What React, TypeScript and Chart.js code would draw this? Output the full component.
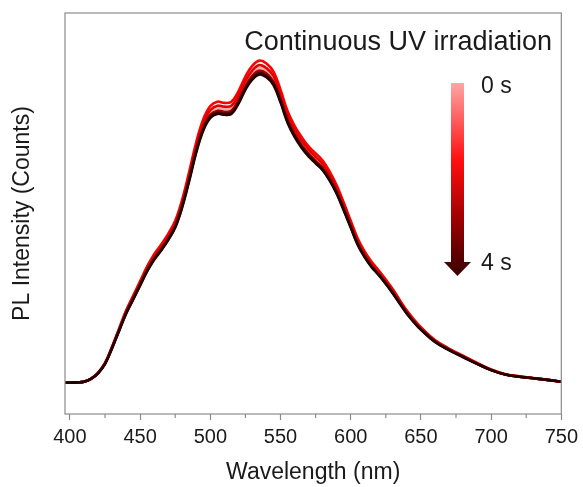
import React, { useEffect, useRef } from 'react';
import { Chart, registerables } from 'chart.js';

Chart.register(...registerables);

// ---- data ----
const wavelengths = [396, 400, 405, 410, 415, 420, 425, 430, 435, 440, 445, 450, 455, 460, 465, 470, 475, 480, 485, 490, 495, 500, 505, 510, 515, 520, 525, 530, 535, 540, 545, 550, 555, 560, 565, 570, 575, 580, 585, 590, 595, 600, 605, 610, 615, 620, 625, 630, 635, 640, 645, 650, 660, 670, 680, 690, 700, 710, 720, 730, 740, 750];

const curvePink = [0, 0, 0.001, 0.003, 0.012, 0.031, 0.061, 0.112, 0.169, 0.225, 0.271, 0.317, 0.363, 0.401, 0.431, 0.465, 0.506, 0.572, 0.659, 0.751, 0.823, 0.864, 0.877, 0.874, 0.877, 0.910, 0.956, 0.989, 1.006, 0.996, 0.971, 0.915, 0.848, 0.802, 0.767, 0.738, 0.715, 0.693, 0.659, 0.616, 0.562, 0.506, 0.450, 0.409, 0.376, 0.351, 0.322, 0.291, 0.258, 0.225, 0.197, 0.173, 0.133, 0.106, 0.084, 0.061, 0.041, 0.027, 0.019, 0.014, 0.009, 0.003];
const curveRed = [0, 0, 0.001, 0.003, 0.013, 0.031, 0.063, 0.115, 0.172, 0.230, 0.277, 0.324, 0.371, 0.410, 0.441, 0.475, 0.517, 0.585, 0.674, 0.768, 0.841, 0.883, 0.897, 0.893, 0.897, 0.930, 0.977, 1.012, 1.028, 1.019, 0.993, 0.935, 0.867, 0.820, 0.784, 0.754, 0.732, 0.709, 0.674, 0.630, 0.575, 0.517, 0.460, 0.418, 0.385, 0.358, 0.329, 0.298, 0.263, 0.230, 0.202, 0.177, 0.136, 0.109, 0.086, 0.063, 0.042, 0.027, 0.020, 0.015, 0.009, 0.003];
const curveRed2 = [0, 0, 0.001, 0.003, 0.012, 0.031, 0.062, 0.113, 0.170, 0.227, 0.273, 0.319, 0.366, 0.404, 0.435, 0.469, 0.510, 0.577, 0.664, 0.757, 0.829, 0.870, 0.884, 0.881, 0.884, 0.917, 0.963, 0.997, 1.014, 1.004, 0.979, 0.922, 0.855, 0.809, 0.773, 0.744, 0.721, 0.698, 0.664, 0.621, 0.567, 0.510, 0.453, 0.412, 0.379, 0.353, 0.324, 0.294, 0.260, 0.227, 0.199, 0.174, 0.134, 0.107, 0.084, 0.062, 0.041, 0.027, 0.020, 0.014, 0.009, 0.003];
const curveDark1 = [0, 0, 0.001, 0.003, 0.012, 0.030, 0.061, 0.111, 0.167, 0.223, 0.268, 0.314, 0.359, 0.397, 0.427, 0.460, 0.501, 0.567, 0.653, 0.744, 0.815, 0.855, 0.868, 0.865, 0.868, 0.901, 0.946, 0.980, 0.996, 0.987, 0.961, 0.906, 0.840, 0.794, 0.759, 0.731, 0.708, 0.686, 0.653, 0.610, 0.557, 0.501, 0.445, 0.405, 0.372, 0.347, 0.319, 0.288, 0.255, 0.223, 0.195, 0.171, 0.132, 0.105, 0.083, 0.061, 0.040, 0.026, 0.019, 0.014, 0.009, 0.003];
const curveDark2 = [0, 0, 0.001, 0.003, 0.012, 0.030, 0.060, 0.111, 0.166, 0.221, 0.266, 0.312, 0.357, 0.394, 0.424, 0.457, 0.497, 0.563, 0.648, 0.739, 0.809, 0.849, 0.862, 0.859, 0.862, 0.894, 0.940, 0.973, 0.989, 0.980, 0.955, 0.899, 0.834, 0.789, 0.754, 0.726, 0.704, 0.681, 0.648, 0.606, 0.553, 0.497, 0.442, 0.402, 0.370, 0.345, 0.317, 0.286, 0.253, 0.221, 0.194, 0.170, 0.131, 0.105, 0.082, 0.060, 0.040, 0.026, 0.019, 0.014, 0.009, 0.003];
const curveBlack = [0, 0, 0.001, 0.003, 0.012, 0.030, 0.060, 0.110, 0.165, 0.220, 0.265, 0.310, 0.355, 0.392, 0.422, 0.455, 0.495, 0.560, 0.645, 0.735, 0.805, 0.845, 0.858, 0.855, 0.858, 0.890, 0.935, 0.968, 0.984, 0.975, 0.950, 0.895, 0.830, 0.785, 0.750, 0.722, 0.700, 0.678, 0.645, 0.603, 0.550, 0.495, 0.440, 0.400, 0.368, 0.343, 0.315, 0.285, 0.252, 0.220, 0.193, 0.169, 0.130, 0.104, 0.082, 0.060, 0.040, 0.026, 0.019, 0.014, 0.009, 0.003];

const seriesNames = ['0 s', '0.8 s', '1.6 s', '2.4 s', '3.2 s', '4 s'];
const seriesValues = [curvePink, curveRed, curveRed2, curveDark1, curveDark2, curveBlack];
const seriesColors = ['rgb(255,170,170)', 'rgb(255,0,0)', 'rgb(228,0,0)', 'rgb(160,0,0)', 'rgb(95,0,0)', 'rgb(35,0,0)'];

const xTickValues = [400, 425, 450, 475, 500, 525, 550, 575, 600, 625, 650, 675, 700, 725, 750];
const xTitle = 'Wavelength (nm)';
const yTitle = 'PL Intensity (Counts)';
const annotationTitle = 'Continuous UV irradiation';
const startLabel = '0 s';
const endLabel = '4 s';

const FONT = '"Liberation Sans", Arial, sans-serif';
const TEXT = '#1a1a1a';
const FRAME = '#8c8c8c';

const framePlugin = {
  id: 'frameAndMinor',
  afterDatasetsDraw(chart: any) {
    const { ctx, chartArea } = chart;
    const { left, top, right, bottom } = chartArea;
    ctx.save();
    ctx.strokeStyle = FRAME;
    ctx.lineWidth = 1.2;
    ctx.strokeRect(left, top, right - left, bottom - top);
    const xs = chart.scales.x;
    ctx.beginPath();
    xTickValues.forEach((v) => {
      if (v % 50 !== 0) {
        const px = xs.getPixelForValue(v);
        ctx.moveTo(px, bottom);
        ctx.lineTo(px, bottom + 4);
      }
    });
    ctx.stroke();
    ctx.restore();
  },
};

const annotationPlugin = {
  id: 'annot',
  afterDraw(chart: any) {
    const { ctx } = chart;
    ctx.save();
    ctx.fillStyle = TEXT;
    ctx.textBaseline = 'alphabetic';
    ctx.font = `27px ${FONT}`;
    ctx.textAlign = 'right';
    ctx.fillText(annotationTitle, 552, 50);
    ctx.font = `23px ${FONT}`;
    ctx.textAlign = 'left';
    ctx.fillText(startLabel, 481, 93);
    ctx.fillText(endLabel, 481, 270);

    const top = 83, barBottom = 262, tip = 276;
    const g = ctx.createLinearGradient(0, top, 0, tip);
    g.addColorStop(0, 'rgb(255,165,165)');
    g.addColorStop(0.4, 'rgb(255,15,15)');
    g.addColorStop(0.7, 'rgb(160,0,0)');
    g.addColorStop(1, 'rgb(55,0,0)');
    ctx.fillStyle = g;
    ctx.fillRect(451, top, 13, barBottom - top + 1);
    ctx.beginPath();
    ctx.moveTo(444, barBottom);
    ctx.lineTo(471, barBottom);
    ctx.lineTo(457.5, tip);
    ctx.closePath();
    ctx.fill();
    ctx.restore();
  },
};

export default function App() {
  const ref = useRef<HTMLCanvasElement | null>(null);
  useEffect(() => {
    if (!ref.current) return;
    const n = seriesValues.length;
    const chart = new Chart(ref.current, {
      type: 'line',
      data: {
        datasets: seriesValues.map((vals, i) => ({
          label: seriesNames[i],
          data: wavelengths.map((w, j) => ({ x: w, y: vals[j] })),
          borderColor: seriesColors[i],
          backgroundColor: seriesColors[i],
          borderWidth: 2.6,
          pointRadius: 0,
          tension: 0.4,
          order: n - 1 - i,
        })),
      },
      options: {
        responsive: false,
        animation: false,
        layout: { padding: { top: 13, right: 19, left: 0, bottom: 0 } },
        plugins: { legend: { display: false }, tooltip: { enabled: false } },
        scales: {
          x: {
            type: 'linear',
            min: 396.5,
            max: 750,
            afterBuildTicks: (scale: any) => {
              scale.ticks = xTickValues.map((v) => ({ value: v }));
            },
            afterFit: (scale: any) => {
              scale.height = 73;
            },
            ticks: {
              autoSkip: false,
              maxRotation: 0,
              padding: 5,
              color: TEXT,
              font: { family: FONT, size: 20 },
              callback: (v: any) => (Number(v) % 50 === 0 ? String(v) : ''),
            },
            grid: {
              display: true,
              drawOnChartArea: false,
              drawTicks: true,
              tickLength: 6,
              tickWidth: 1.2,
              tickColor: (c: any) => (c.tick && c.tick.value % 50 === 0 ? FRAME : 'rgba(0,0,0,0)'),
            },
            border: { display: false },
            title: {
              display: true,
              text: xTitle,
              color: TEXT,
              font: { family: FONT, size: 23 },
              padding: { top: 0, bottom: 1 },
            },
          },
          y: {
            type: 'linear',
            min: -0.1,
            max: 1.18,
            afterFit: (scale: any) => {
              scale.width = 65;
            },
            ticks: { display: false },
            grid: { display: false, drawTicks: false },
            border: { display: false },
            title: {
              display: true,
              text: yTitle,
              color: TEXT,
              font: { family: FONT, size: 23 },
              padding: { top: 9, bottom: 0 },
            },
          },
        },
      },
      plugins: [framePlugin, annotationPlugin],
    } as any);
    return () => chart.destroy();
  }, []);
  return (
    <div style={{ position: 'absolute', left: 0, top: 0, width: 583, height: 487, background: '#fff' }}>
      <canvas ref={ref} width={583} height={487} style={{ display: 'block' }} />
    </div>
  );
}
